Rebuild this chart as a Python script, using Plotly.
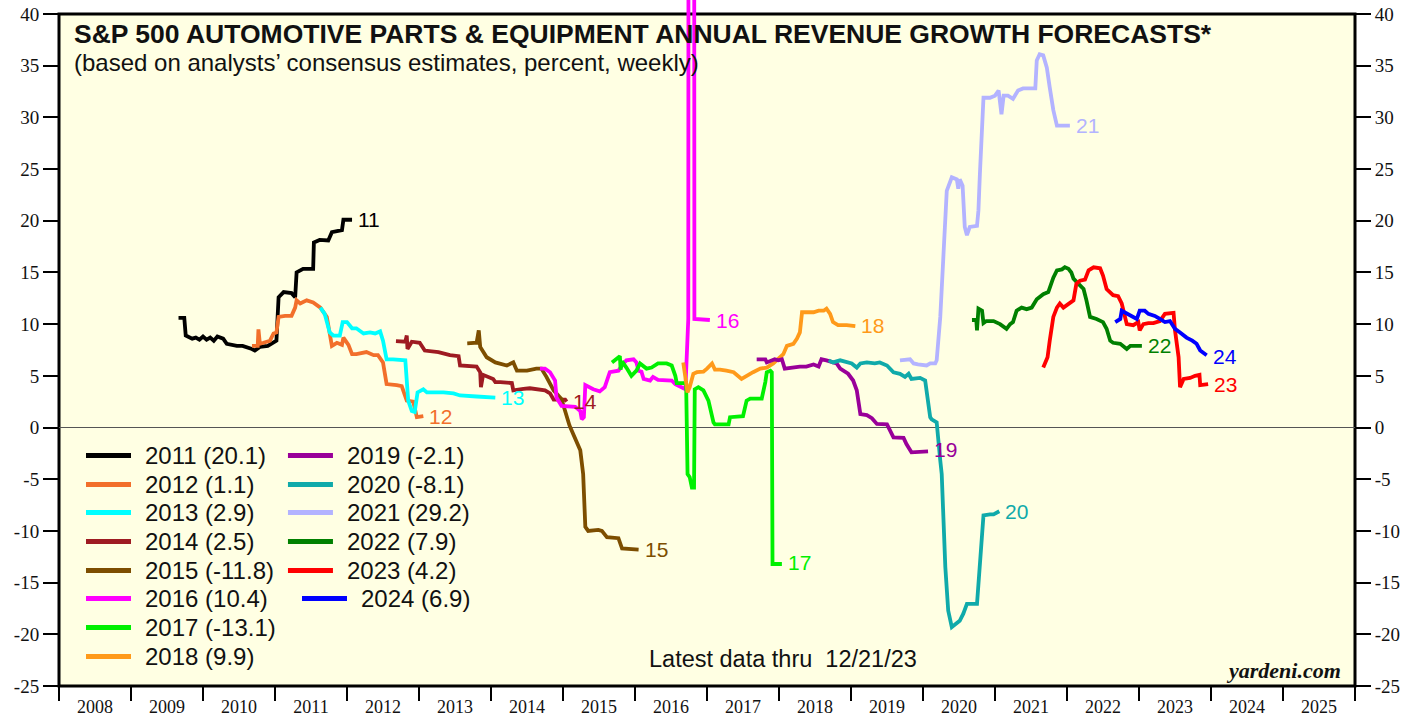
import plotly.graph_objects as go

# ---------------- data (year fraction, percent) ----------------
yr_2011 = [2009.66, 2009.74, 2009.76, 2009.80, 2009.85, 2009.90, 2009.95, 2010.00, 2010.05, 2010.10,
           2010.15, 2010.20, 2010.28, 2010.33, 2010.40, 2010.47, 2010.55, 2010.61, 2010.68, 2010.72,
           2010.79, 2010.90, 2011.02, 2011.05, 2011.12, 2011.23, 2011.28, 2011.30, 2011.39, 2011.53,
           2011.54, 2011.62, 2011.74, 2011.79, 2011.93, 2011.95, 2012.07]
v_2011 = [10.6, 10.6, 8.9, 8.8, 8.6, 8.7, 8.5, 8.8, 8.5, 8.7,
          8.4, 8.8, 8.6, 8.1, 8.0, 7.9, 7.9, 7.8, 7.6, 7.45,
          7.8, 7.9, 8.4, 12.6, 13.1, 13.0, 12.6, 15.0, 15.35, 15.35,
          17.9, 18.15, 18.1, 18.9, 19.1, 20.1, 20.1]

yr_2012 = [2010.68, 2010.76, 2010.77, 2010.78, 2010.79, 2010.84, 2010.93, 2010.98, 2011.02, 2011.05,
           2011.14, 2011.23, 2011.28, 2011.30, 2011.35, 2011.44, 2011.53, 2011.63, 2011.72, 2011.79,
           2011.86, 2011.93, 2011.95, 2012.02, 2012.07, 2012.13, 2012.27, 2012.37, 2012.43, 2012.50,
           2012.55, 2012.69, 2012.76, 2012.83, 2012.92, 2012.97, 2013.06]
v_2012 = [7.9, 7.9, 9.5, 8.5, 8.1, 8.2, 8.4, 9.1, 9.2, 10.7,
          10.8, 10.8, 11.6, 12.3, 12.0, 12.3, 12.1, 11.6, 10.7, 7.9,
          8.2, 8.0, 8.7, 8.0, 7.1, 7.1, 7.3, 7.0, 7.0, 6.3,
          4.2, 4.1, 4.0, 2.6, 2.5, 1.0, 1.1]

yr_2013 = [2011.63, 2011.69, 2011.76, 2011.81, 2011.90, 2011.94, 2012.00, 2012.07, 2012.13, 2012.23,
           2012.32, 2012.39, 2012.46, 2012.50, 2012.55, 2012.64, 2012.81, 2012.83, 2012.85, 2012.90,
           2012.94, 2012.98, 2013.06, 2013.11, 2013.34, 2013.48, 2013.57, 2013.80, 2014.06]
v_2013 = [11.6, 11.0, 9.2, 8.9, 8.9, 10.2, 10.2, 9.6, 9.6, 9.1,
          9.2, 9.1, 9.3, 8.4, 6.6, 6.6, 6.5, 4.2, 2.6, 1.6,
          1.5, 3.4, 3.7, 3.4, 3.4, 3.3, 3.1, 3.0, 2.9]

yr_2014 = [2012.68, 2012.81, 2012.83, 2012.84, 2012.90, 2013.01, 2013.08, 2013.27, 2013.43, 2013.55,
           2013.57, 2013.80, 2013.85, 2013.86, 2013.89, 2014.03, 2014.06, 2014.13, 2014.29, 2014.31,
           2014.45, 2014.54, 2014.75, 2014.82, 2014.87, 2015.03, 2015.05]
v_2014 = [8.35, 8.3, 8.9, 7.6, 8.3, 8.2, 7.45, 7.3, 7.0, 6.9,
          6.0, 5.9, 5.35, 3.9, 5.1, 4.7, 4.4, 4.4, 4.3, 3.6,
          3.75, 3.8, 3.6, 3.3, 2.7, 2.7, 2.5]

yr_2015 = [2013.67, 2013.80, 2013.83, 2013.85, 2013.94, 2014.06, 2014.22, 2014.29, 2014.31, 2014.36,
           2014.50, 2014.63, 2014.70, 2014.77, 2014.87, 2014.98, 2015.03, 2015.09, 2015.14, 2015.24,
           2015.28, 2015.31, 2015.35, 2015.49, 2015.54, 2015.61, 2015.77, 2015.82, 2016.05]
v_2015 = [8.15, 8.2, 9.4, 7.8, 6.8, 6.3, 6.0, 6.2, 6.3, 5.5,
          5.5, 5.7, 5.7, 4.9, 3.6, 2.75, 1.6, 0.2, -0.6, -2.2,
          -4.5, -9.6, -10.0, -9.9, -10.0, -10.6, -10.7, -11.7, -11.8]

yr_2016 = [2014.68, 2014.75, 2014.82, 2014.89, 2014.91, 2014.98, 2015.17, 2015.24, 2015.26, 2015.29,
           2015.31, 2015.42, 2015.51, 2015.58, 2015.65, 2015.77, 2015.84, 2015.88, 2015.98, 2016.02,
           2016.05, 2016.09, 2016.12, 2016.21, 2016.25, 2016.32, 2016.51, 2016.56, 2016.70, 2016.73,
           2016.74, 2016.745, 2016.82, 2016.825, 2017.04]
v_2016 = [5.7, 5.7, 5.35, 4.55, 2.9, 2.1, 2.0, 1.6, 0.8, 1.0,
          4.1, 3.7, 3.5, 3.9, 5.35, 5.5, 6.2, 6.5, 6.6, 6.3,
          5.5, 5.4, 4.7, 4.55, 4.9, 4.6, 4.55, 4.2, 3.7, 10.3,
          10.5, 80.0, 80.0, 10.5, 10.4]

yr_2017 = [2015.68, 2015.79, 2015.80, 2015.82, 2015.88, 2015.95, 2016.02, 2016.07, 2016.16, 2016.23,
           2016.32, 2016.44, 2016.51, 2016.56, 2016.58, 2016.65, 2016.71, 2016.73, 2016.76, 2016.79,
           2016.82, 2016.83, 2016.88, 2016.95, 2017.02, 2017.09, 2017.11, 2017.30, 2017.32, 2017.50,
           2017.55, 2017.60, 2017.76, 2017.81, 2017.83, 2017.88, 2017.90, 2017.91, 2018.04]
v_2017 = [6.3, 6.9, 5.6, 6.4, 5.8, 5.0, 5.5, 6.2, 5.7, 5.8,
          6.2, 6.2, 6.0, 5.0, 4.3, 4.3, 4.3, -4.5, -4.8, -5.8,
          -5.8, 3.7, 3.9, 3.6, 2.6, 0.5, 0.3, 0.3, 1.0, 1.1,
          2.6, 2.8, 2.8, 4.4, 5.35, 5.5, 5.35, -13.2, -13.2]

yr_2018 = [2016.67, 2016.69, 2016.73, 2016.76, 2016.81, 2016.86, 2016.95, 2017.00, 2017.07, 2017.11,
           2017.18, 2017.27, 2017.37, 2017.48, 2017.55, 2017.64, 2017.74, 2017.83, 2017.92, 2017.99,
           2018.06, 2018.11, 2018.20, 2018.25, 2018.29, 2018.32, 2018.48, 2018.55, 2018.62, 2018.66,
           2018.71, 2018.75, 2018.82, 2018.94, 2019.06]
v_2018 = [6.3, 5.5, 3.4, 3.9, 5.2, 5.35, 5.4, 5.7, 6.2, 5.6,
          5.6, 5.5, 5.35, 4.7, 5.0, 5.35, 5.7, 5.8, 6.2, 6.6,
          7.1, 7.9, 8.1, 8.6, 9.2, 11.15, 11.15, 11.3, 11.3, 11.5,
          11.0, 10.2, 9.9, 9.9, 9.8]

yr_2019 = [2017.69, 2017.81, 2017.83, 2017.90, 2017.94, 2017.99, 2018.04, 2018.08, 2018.18, 2018.29,
           2018.38, 2018.48, 2018.55, 2018.59, 2018.66, 2018.75, 2018.80, 2018.85, 2018.96, 2019.03,
           2019.08, 2019.13, 2019.22, 2019.29, 2019.36, 2019.50, 2019.54, 2019.59, 2019.73, 2019.77,
           2019.84, 2020.07]
v_2019 = [6.6, 6.6, 6.3, 6.5, 6.6, 6.5, 6.6, 5.7, 5.8, 5.9,
          5.9, 6.1, 5.9, 6.6, 6.5, 6.3, 6.2, 5.7, 5.2, 4.55,
          3.6, 1.3, 1.2, 0.9, 0.35, 0.3, -0.3, -0.95, -1.0, -1.6,
          -2.4, -2.3]

yr_2020 = [2018.69, 2018.75, 2018.85, 2018.94, 2019.01, 2019.08, 2019.13, 2019.22, 2019.33, 2019.40,
           2019.50, 2019.59, 2019.68, 2019.75, 2019.80, 2019.84, 2019.96, 2020.03, 2020.07, 2020.10,
           2020.12, 2020.17, 2020.19, 2020.24, 2020.26, 2020.31, 2020.35, 2020.40, 2020.51, 2020.56,
           2020.61, 2020.75, 2020.79, 2020.84, 2020.93, 2020.98, 2021.06]
v_2020 = [6.5, 6.3, 6.5, 6.3, 6.2, 5.8, 6.2, 6.3, 6.2, 6.3,
          6.0, 5.35, 5.2, 4.9, 5.2, 4.7, 4.8, 4.55, 2.6, 1.0,
          0.8, 0.5, 0.5, -3.2, -4.5, -13.5, -17.7, -19.3, -18.7, -18.0,
          -17.05, -17.05, -13.5, -8.5, -8.4, -8.4, -8.1]

yr_2021 = [2019.68, 2019.82, 2019.87, 2019.93, 2020.05, 2020.10, 2020.17, 2020.19, 2020.24, 2020.28,
           2020.33, 2020.40, 2020.47, 2020.49, 2020.51, 2020.55, 2020.58, 2020.61, 2020.65, 2020.75,
           2020.77, 2020.79, 2020.84, 2020.93, 2021.00, 2021.05, 2021.09, 2021.12, 2021.18, 2021.25,
           2021.30, 2021.32, 2021.39, 2021.56, 2021.58, 2021.62, 2021.67, 2021.72, 2021.76, 2021.81,
           2021.86, 2022.04]
v_2021 = [6.5, 6.6, 6.2, 6.1, 6.0, 6.2, 6.2, 6.5, 10.7, 15.8,
          22.9, 24.2, 24.0, 23.1, 24.0, 23.4, 19.4, 18.6, 19.4, 19.5,
          21.0, 24.5, 31.9, 31.9, 32.1, 32.6, 30.3, 32.1, 32.1, 31.8,
          32.3, 32.6, 32.8, 32.8, 35.5, 36.1, 36.0, 34.8, 32.9, 30.7,
          29.2, 29.2]

yr_2022 = [2020.68, 2020.74, 2020.75, 2020.77, 2020.82, 2020.84, 2020.88, 2020.98, 2021.07, 2021.16,
           2021.21, 2021.25, 2021.30, 2021.37, 2021.44, 2021.51, 2021.58, 2021.67, 2021.74, 2021.81,
           2021.86, 2021.93, 2021.97, 2022.02, 2022.06, 2022.09, 2022.16, 2022.23, 2022.27, 2022.32,
           2022.41, 2022.50, 2022.55, 2022.60, 2022.64, 2022.74, 2022.83, 2022.88, 2023.04]
v_2022 = [10.4, 10.4, 9.4, 11.5, 11.3, 10.1, 10.3, 10.3, 10.0, 9.55,
          10.0, 10.2, 11.3, 11.6, 11.45, 11.6, 12.4, 12.9, 13.1, 14.5,
          15.2, 15.3, 15.5, 15.35, 15.0, 14.4, 13.9, 13.4, 12.3, 10.7,
          10.5, 10.2, 9.55, 8.4, 8.2, 8.1, 7.6, 7.9, 7.9]

yr_2023 = [2021.67, 2021.73, 2021.76, 2021.81, 2021.86, 2021.90, 2021.95, 2022.04, 2022.09, 2022.13,
           2022.18, 2022.25, 2022.30, 2022.37, 2022.46, 2022.50, 2022.55, 2022.64, 2022.71, 2022.76,
           2022.81, 2022.83, 2022.92, 2022.99, 2023.01, 2023.06, 2023.13, 2023.20, 2023.29, 2023.36,
           2023.48, 2023.50, 2023.55, 2023.57, 2023.62, 2023.71, 2023.78, 2023.84, 2023.85, 2023.96]
v_2023 = [5.8, 6.8, 8.4, 10.7, 11.6, 12.0, 11.6, 12.1, 12.3, 13.9,
          14.2, 14.3, 15.2, 15.5, 15.4, 14.7, 13.4, 12.8, 12.7, 12.0,
          10.7, 10.0, 9.9, 10.2, 9.4, 10.0, 10.1, 10.1, 10.3, 11.0,
          11.1, 9.4, 6.8, 3.9, 4.7, 4.8, 5.0, 5.1, 4.1, 4.2]

yr_2024 = [2022.67, 2022.74, 2022.76, 2022.83, 2022.92, 2022.97, 2023.01, 2023.08, 2023.13, 2023.22,
           2023.29, 2023.36, 2023.43, 2023.50, 2023.57, 2023.66, 2023.74, 2023.80, 2023.85, 2023.94]
v_2024 = [10.2, 10.5, 11.3, 11.0, 10.7, 10.5, 11.3, 11.3, 11.0, 10.8,
          10.5, 10.2, 10.3, 9.55, 9.2, 8.7, 8.4, 8.1, 7.45, 7.0]

series_names = ["2011", "2012", "2013", "2014", "2015", "2016", "2017",
                "2018", "2019", "2020", "2021", "2022", "2023", "2024"]
latest_values = [20.1, 1.1, 2.9, 2.5, -11.8, 10.4, -13.1, 9.9, -2.1, -8.1, 29.2, 7.9, 4.2, 6.9]
series_x = [yr_2011, yr_2012, yr_2013, yr_2014, yr_2015, yr_2016, yr_2017,
            yr_2018, yr_2019, yr_2020, yr_2021, yr_2022, yr_2023, yr_2024]
series_y = [v_2011, v_2012, v_2013, v_2014, v_2015, v_2016, v_2017,
            v_2018, v_2019, v_2020, v_2021, v_2022, v_2023, v_2024]
colors = ["#000000", "#F26F2B", "#00FFFF", "#9E1B22", "#7D4E00", "#FF00FF", "#00F000",
          "#FF9A1A", "#990099", "#10AAAA", "#B3B3FF", "#008000", "#FF0000", "#0000FF"]

year_ticks = list(range(2008, 2026))
y_ticks = list(range(-25, 41, 5))

# ---------------- figure ----------------
W, H = 1419, 717
ML, MR, MT, MB = 59, 64, 0, 31
Y_LO, Y_HI = -25, 40
px_per_unit = 672.0 / (Y_HI - Y_LO)
y_top = Y_HI + 14.0 / px_per_unit
y_range = [Y_LO, y_top]

SANS = "Liberation Sans, Arial, sans-serif"
SERIF = "Liberation Serif, Times New Roman, serif"
CREAM = "#FFFFE3"

fig = go.Figure()

for name, xs, ys, col, last in zip(series_names, series_x, series_y, colors, latest_values):
    fig.add_trace(go.Scatter(x=xs, y=ys, mode="lines", name=name,
                             line=dict(color=col, width=3.8),
                             showlegend=False, hoverinfo="skip"))
    fig.add_annotation(x=xs[-1], y=last, xref="x", yref="y", text=name[2:],
                       showarrow=False, xanchor="left", yanchor="middle", xshift=4,
                       font=dict(family=SANS, size=21, color=col))

# invisible trace for right axis
fig.add_trace(go.Scatter(x=[2008], y=[0], yaxis="y2", mode="markers",
                         marker=dict(opacity=0), showlegend=False, hoverinfo="skip"))

# plot box (paper coordinates so border is not clipped)
box_top = (Y_HI - Y_LO) / (y_top - Y_LO)
fig.add_shape(type="rect", xref="paper", yref="paper", x0=0, x1=1, y0=0, y1=box_top,
              line=dict(color="black", width=3), fillcolor=CREAM, layer="below")

# manual legend (two columns)
row_y = [-2.71, -5.51, -8.22, -11.03, -13.83, -16.54, -19.35, -22.15]
for i, (name, col, last) in enumerate(zip(series_names, colors, latest_values)):
    if i < 8:
        lx0, lx1, tx, ry = 2008.375, 2009.0, 2009.17, row_y[i]
    elif name == "2024":
        lx0, lx1, tx, ry = 2011.375, 2012.0, 2012.17, row_y[i - 8]
    else:
        lx0, lx1, tx, ry = 2011.18, 2011.805, 2011.975, row_y[i - 8]
    fig.add_shape(type="line", xref="x", yref="y", x0=lx0, x1=lx1, y0=ry, y1=ry,
                  line=dict(color=col, width=5))
    fig.add_annotation(x=tx, y=ry, xref="x", yref="y", text=f"{name} ({last})",
                       showarrow=False, xanchor="left", yanchor="middle",
                       font=dict(family=SANS, size=24, color="#111111"))

# titles and notes
fig.add_annotation(x=2008.18, y=38.1, xref="x", yref="y",
                   text="<b>S&P 500 AUTOMOTIVE PARTS & EQUIPMENT ANNUAL REVENUE GROWTH FORECASTS*</b>",
                   showarrow=False, xanchor="left", yanchor="middle",
                   font=dict(family=SANS, size=26.5, color="#111111"))
fig.add_annotation(x=2008.18, y=35.3, xref="x", yref="y",
                   text="(based on analysts’ consensus estimates, percent, weekly)",
                   showarrow=False, xanchor="left", yanchor="middle",
                   font=dict(family=SANS, size=24, color="#111111"))
fig.add_annotation(x=2018.06, y=-22.35, xref="x", yref="y",
                   text="Latest data thru  12/21/23",
                   showarrow=False, xanchor="center", yanchor="middle",
                   font=dict(family=SANS, size=23.5, color="#111111"))
fig.add_annotation(x=2025.84, y=-23.5, xref="x", yref="y",
                   text="<b><i>yardeni.com</i></b>",
                   showarrow=False, xanchor="right", yanchor="middle",
                   font=dict(family=SERIF, size=22, color="#111111"))

yaxis_common = dict(range=y_range, tickmode="array", tickvals=y_ticks,
                    ticktext=[str(v) for v in y_ticks], automargin=False,
                    ticks="outside", ticklen=15, tickwidth=1.5, tickcolor="black",
                    showgrid=False, showline=False,
                    tickfont=dict(family=SERIF, size=19, color="#111111"))

fig.update_layout(
    width=W, height=H,
    margin=dict(l=ML, r=MR, t=MT, b=MB, pad=0, autoexpand=False),
    paper_bgcolor="white", plot_bgcolor="white",
    showlegend=False,
    xaxis=dict(range=[2008, 2026], tickmode="array", automargin=False,
               tickvals=[y + 0.5 for y in year_ticks], ticktext=[str(y) for y in year_ticks],
               ticks="outside", ticklen=4, tickcolor="rgba(0,0,0,0)",
               showgrid=False, zeroline=False, showline=False,
               tickfont=dict(family=SERIF, size=18, color="#111111"),
               minor=dict(tickmode="array", tickvals=year_ticks + [2026], ticks="outside",
                          ticklen=14, tickwidth=2, tickcolor="black", showgrid=False)),
    yaxis=dict(**yaxis_common, zeroline=True, zerolinecolor="#555555", zerolinewidth=1),
    yaxis2=dict(**yaxis_common, overlaying="y", side="right", zeroline=False),
)

fig.write_html("out.html", config={"displayModeBar": False},
               post_script="document.body.style.margin='0';document.body.style.overflow='hidden';")
